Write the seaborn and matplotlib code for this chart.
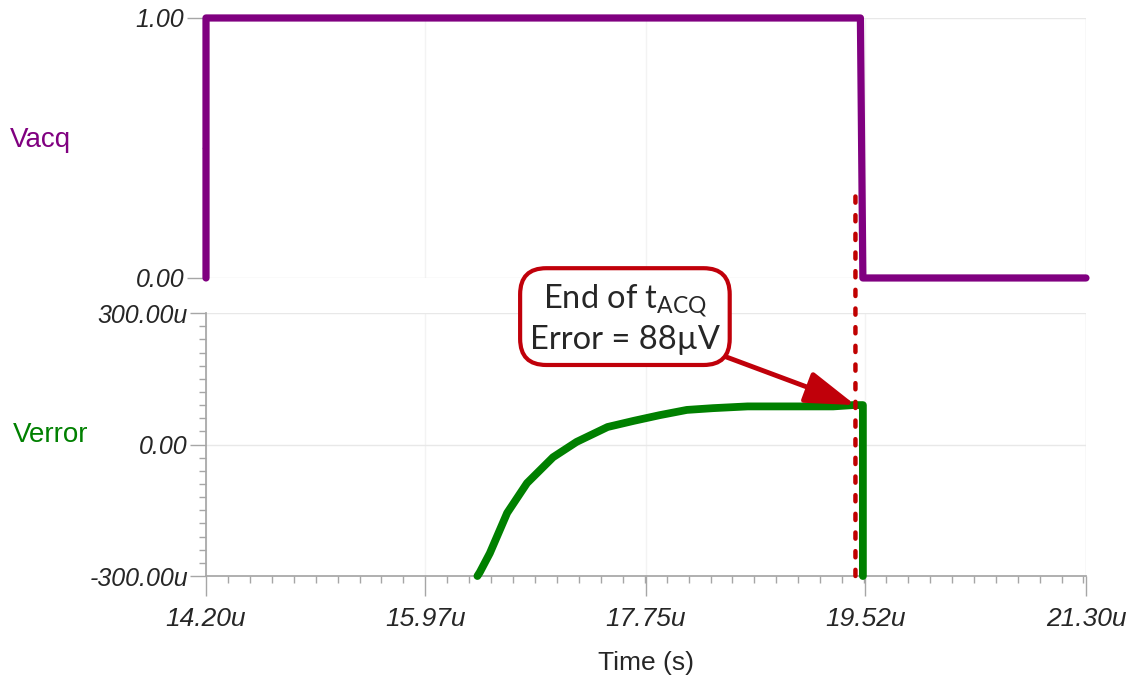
import matplotlib
matplotlib.use("Agg")
import matplotlib.pyplot as plt
from matplotlib.patches import ConnectionPatch
from matplotlib.ticker import AutoMinorLocator
import pandas as pd
import seaborn as sns

# ── data (time in microseconds) ───────────────────────────────────────────────
vacq_t = [14.20, 14.20, 19.48, 19.50, 21.30]
vacq_v = [0.0, 1.0, 1.0, 0.0, 0.0]

verr_t = [16.39, 16.41, 16.49, 16.63, 16.79, 17.00, 17.19, 17.44, 17.65,
          17.86, 18.08, 18.29, 18.57, 19.26, 19.42, 19.50, 19.50]
verr_v = [-300, -291, -248, -156, -88, -29, 6, 40, 54,
          67, 79, 83, 87, 87, 90, 90, -300]

t_acq_end = 19.44
x_ticks = [14.20, 15.97, 17.75, 19.52, 21.30]
x_ticklabels = ["14.20u", "15.97u", "17.75u", "19.52u", "21.30u"]
top_ticks = [0.0, 1.0]
top_ticklabels = ["0.00", "1.00"]
bot_ticks = [-300, 0, 300]
bot_ticklabels = ["-300.00u", "0.00", "300.00u"]

PURPLE = "#800080"
GREEN = "#008000"
RED = "#C0000A"
AXC = "#A6A6A6"

sns.set_theme(style="white")
plt.rcParams["font.family"] = ["Liberation Sans", "DejaVu Sans"]
plt.rcParams["mathtext.fontset"] = "custom"
plt.rcParams["mathtext.rm"] = "Lato"

fig = plt.figure(figsize=(11.35, 6.76), dpi=100)
ax_top = fig.add_axes([0.1815, 0.5888, 0.7753, 0.3846])
ax_bot = fig.add_axes([0.1815, 0.1479, 0.7753, 0.3890])

df_acq = pd.DataFrame({"t": vacq_t, "v": vacq_v})
df_err = pd.DataFrame({"t": verr_t, "v": verr_v})

sns.lineplot(data=df_acq, x="t", y="v", ax=ax_top, sort=False, estimator=None,
             color=PURPLE, lw=5.2, solid_capstyle="round", solid_joinstyle="round",
             clip_on=False, zorder=4)
sns.lineplot(data=df_err, x="t", y="v", ax=ax_bot, sort=False, estimator=None,
             color=GREEN, lw=5.6, solid_capstyle="round", solid_joinstyle="round",
             clip_on=False, zorder=4)

for ax in (ax_top, ax_bot):
    ax.set_xlim(14.20, 21.30)
    ax.set_xticks(x_ticks)
    ax.grid(True, axis="x", color="#F3F3F3", lw=1)
    ax.grid(True, axis="y", color="#E8E8E8", lw=1)
    ax.set_xlabel("")
    ax.set_ylabel("")
    for s in ax.spines.values():
        s.set_visible(False)
ax_top.axvline(21.30, color="#E8E8E8", lw=1)
ax_bot.axvline(21.30, color="#E8E8E8", lw=1)

ax_top.set_ylim(0, 1)
ax_top.set_yticks(top_ticks, top_ticklabels)
ax_top.yaxis.set_minor_locator(AutoMinorLocator(2))
ax_top.tick_params(axis="x", length=0, labelbottom=False)
ax_top.tick_params(axis="y", which="major", left=True, length=14, width=1,
                   color=AXC, labelsize=18, pad=1.5)
ax_top.tick_params(axis="y", which="minor", left=True, length=3, width=1, color=AXC)

ax_bot.set_ylim(-300, 300)
ax_bot.set_yticks(bot_ticks, bot_ticklabels)
ax_bot.set_xticks(x_ticks, x_ticklabels)
ax_bot.xaxis.set_minor_locator(AutoMinorLocator(10))
ax_bot.yaxis.set_minor_locator(AutoMinorLocator(10))
ax_bot.spines["left"].set_visible(True)
ax_bot.spines["bottom"].set_visible(True)
ax_bot.spines["left"].set_color(AXC)
ax_bot.spines["bottom"].set_color(AXC)
ax_bot.tick_params(axis="x", which="major", bottom=True, length=14.5,
                   width=1, color=AXC, labelsize=19, pad=8)
ax_bot.tick_params(axis="y", which="major", left=True, length=11.5,
                   width=1, color=AXC, labelsize=18, pad=1.5)
ax_bot.tick_params(axis="both", which="minor", bottom=True, left=True, length=5,
                   width=1, color=AXC)
for lab in ax_top.get_yticklabels() + ax_bot.get_yticklabels() + ax_bot.get_xticklabels():
    lab.set_fontstyle("italic")
ax_bot.set_xlabel("Time (s)", fontsize=19, labelpad=14)

# dotted marker line spanning both panels
con = ConnectionPatch(xyA=(t_acq_end, -300), coordsA=ax_bot.transData,
                      xyB=(t_acq_end, 0.36), coordsB=ax_top.transData,
                      color="#C00000", lw=3.2, linestyle=(0, (1.4, 2.8)),
                      capstyle="round", zorder=5)
fig.add_artist(con)

# annotation box with arrow
ax_bot.annotate("End of t$_{\\mathrm{ACQ}}$\nError = 88\u00b5V",
                xy=(t_acq_end, 90), xytext=(17.58, 286),
                ha="center", va="center", fontsize=23.5, family=["Lato", "DejaVu Sans"],
                linespacing=1.2, annotation_clip=False, zorder=6,
                bbox=dict(boxstyle="round,pad=0.3,rounding_size=0.8",
                          fc="white", ec=RED, lw=3),
                arrowprops=dict(arrowstyle="-|>,head_length=1.3,head_width=0.42",
                                color=RED, lw=3.5, shrinkA=0, shrinkB=0))

fig.text(0.009, 0.793, "Vacq", color=PURPLE, fontsize=20, va="center")
fig.text(0.011, 0.357, "Verror", color=GREEN, fontsize=20, va="center")

fig.savefig("out.png", dpi=100)
